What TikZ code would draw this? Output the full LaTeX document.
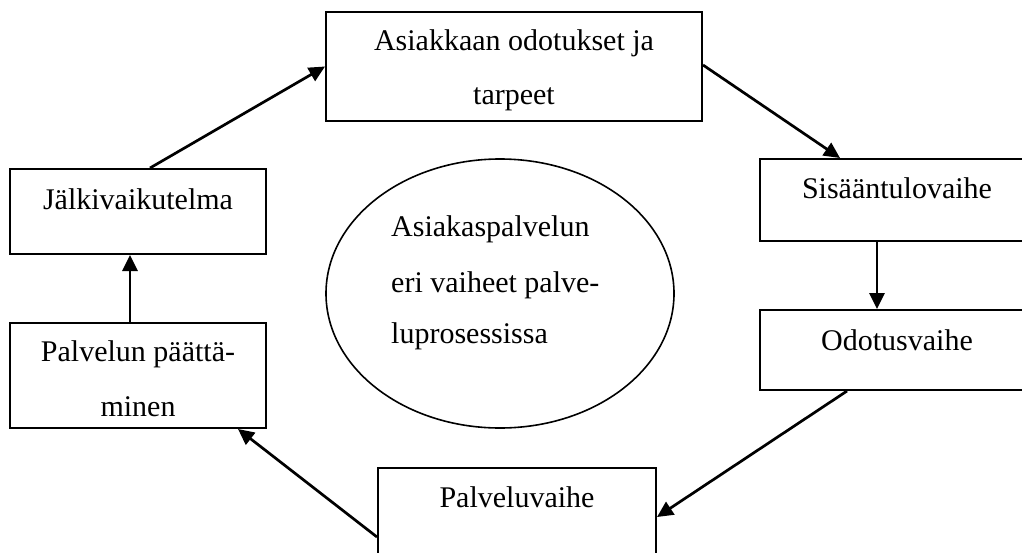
\documentclass[tikz,border=0pt]{standalone}
\usepackage{fontspec}
\setmainfont{Liberation Serif}
\usetikzlibrary{arrows.meta,shapes.geometric}

\tikzset{
  stagebox/.style={draw, line width=2pt, rectangle, inner sep=0pt},
  hub/.style={draw, ellipse, line width=1.6pt, inner sep=0pt},
  txt/.style={anchor=base, inner sep=0pt, font=\fontsize{30}{54}\selectfont},
  txtl/.style={txt, anchor=base west},
  flow/.style={line width=2.7pt, -{Triangle[length=16pt,width=15pt]}},
}

\begin{document}
\begin{tikzpicture}[x=1pt,y=-1pt]
  \useasboundingbox (0,0) rectangle (1022,552);
  \clip (0,0) rectangle (1022,552);

  % stage boxes
  \node[stagebox, minimum width=376pt, minimum height=109pt] (needs) at (514,66.5) {};
  \node[stagebox, minimum width=274pt, minimum height=82pt]  (entry) at (897,200) {};
  \node[stagebox, minimum width=274pt, minimum height=80pt]  (wait)  at (897,350) {};
  \node[stagebox, minimum width=278pt, minimum height=100pt] (serve) at (517,518) {};
  \node[stagebox, minimum width=256pt, minimum height=105pt] (close) at (138,375.5) {};
  \node[stagebox, minimum width=256pt, minimum height=85pt]  (after) at (138,211.5) {};

  % central ellipse
  \node[hub, minimum width=348pt, minimum height=269pt] (hubnode) at (500,293.5) {};

  % labels
  \node[txt] (needsA) at (514,50)  {Asiakkaan odotukset ja};
  \node[txt] (needsB) at (514,104) {tarpeet};
  \node[txt] (entryT) at (897,198) {Sisääntulovaihe};
  \node[txt] (waitT)  at (897,350) {Odotusvaihe};
  \node[txt] (serveT) at (517,507) {Palveluvaihe};
  \node[txt] (closeA) at (138,361) {Palvelun päättä-};
  \node[txt] (closeB) at (138,416) {minen};
  \node[txt] (afterT) at (138,209) {Jälkivaikutelma};

  \node[txtl] (hubA) at (391,236) {Asiakaspalvelun};
  \node[txtl] (hubB) at (391,292) {eri vaiheet palve-};
  \node[txtl] (hubC) at (391,343) {luprosessissa};

  % cycle connectors
  \draw[flow] ([xshift=12pt]after.north) -- (needs.west);
  \draw[flow] ([yshift=1.5pt]needs.east) -- ([xshift=-57pt]entry.north);
  \draw[flow] ([xshift=-20pt]entry.south) -- ([xshift=-20pt]wait.north);
  \draw[flow] ([xshift=-50pt]wait.south) -- ([yshift=1pt]serve.east);
  \draw[flow] ([yshift=-19pt]serve.west) -- ([xshift=100pt]close.south);
  \draw[flow] ([xshift=-8pt]close.north) -- ([xshift=-8pt]after.south);
\end{tikzpicture}
\end{document}
